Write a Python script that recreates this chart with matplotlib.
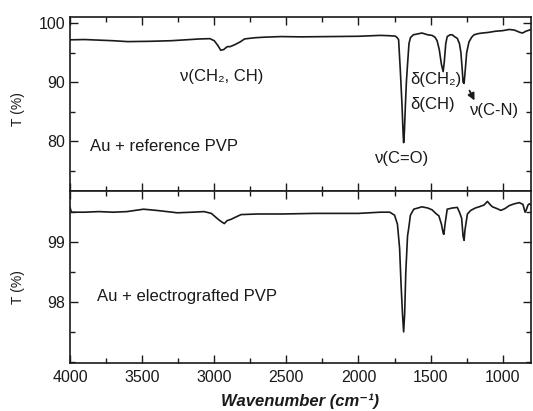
import numpy as np
import matplotlib
matplotlib.use("Agg")
import matplotlib.pyplot as plt
from matplotlib.ticker import MultipleLocator


# =========================================
# Spectra
# =========================================
ref_wn = [4000, 3900, 3800, 3700, 3600, 3450, 3300, 3200, 3100, 3030,
          3000, 2975, 2955, 2935, 2910, 2890, 2860, 2820, 2790, 2720,
          2650, 2535, 2400, 2200, 2000, 1850, 1790, 1760, 1747, 1735,
          1722, 1710, 1699, 1690, 1687, 1682, 1675, 1668, 1660, 1650,
          1640, 1620, 1580, 1560, 1520, 1490, 1470, 1455, 1440, 1425,
          1413, 1405, 1395, 1385, 1365, 1350, 1335, 1315, 1300, 1290,
          1282, 1275, 1268, 1260, 1250, 1234, 1215, 1199, 1170, 1141,
          1100, 1050, 1000, 955, 920, 880, 862, 840, 815, 800]
ref_T = [97.15, 97.2, 97.1, 97.0, 96.85, 96.9, 97.0, 97.15, 97.3, 97.35,
         97.0, 96.2, 95.4, 95.5, 96.0, 96.0, 96.3, 96.8, 97.3, 97.5,
         97.6, 97.7, 97.65, 97.7, 97.75, 97.9, 97.85, 97.8, 97.8, 97.6,
         97.2, 92.0, 86.5, 81.0, 79.8, 81.5, 86.0, 90.0, 93.0, 96.5,
         97.5, 98.0, 98.2, 98.3, 98.0, 97.9, 97.6, 97.0, 95.5, 93.0,
         91.8, 93.5, 96.5, 97.7, 98.0, 98.0, 97.7, 97.4, 96.5, 95.0,
         92.5, 90.0, 89.8, 92.0, 95.0, 96.8, 97.6, 98.0, 98.2, 98.3,
         98.4, 98.6, 98.7, 98.9, 98.8, 98.4, 98.3, 98.6, 98.8, 98.9]

graft_wn = [4000, 3990, 3900, 3800, 3700, 3605, 3490, 3400, 3256, 3150,
            3070, 3020, 2977, 2950, 2930, 2910, 2884, 2850, 2814, 2700,
            2535, 2300, 2000, 1850, 1783, 1750, 1730, 1715, 1705, 1695,
            1687, 1680, 1672, 1660, 1652, 1640, 1617, 1560, 1520, 1490,
            1460, 1443, 1425, 1413, 1408, 1400, 1385, 1350, 1315, 1300,
            1285, 1275, 1268, 1262, 1245, 1222, 1190, 1164, 1130, 1106,
            1085, 1071, 1040, 1013, 985, 955, 920, 885, 860, 845,
            838, 825, 815, 800]
graft_T = [99.58, 99.50, 99.50, 99.51, 99.50, 99.51, 99.55, 99.53, 99.49, 99.50,
           99.51, 99.48, 99.39, 99.34, 99.31, 99.36, 99.38, 99.42, 99.46, 99.47,
           99.47, 99.48, 99.48, 99.50, 99.50, 99.45, 99.30, 98.90, 98.30, 97.80,
           97.50, 97.80, 98.50, 99.10, 99.23, 99.45, 99.55, 99.59, 99.57, 99.54,
           99.47, 99.44, 99.30, 99.15, 99.13, 99.30, 99.55, 99.57, 99.58, 99.50,
           99.40, 99.10, 99.03, 99.20, 99.47, 99.53, 99.57, 99.59, 99.62, 99.68,
           99.62, 99.59, 99.56, 99.53, 99.56, 99.61, 99.64, 99.66, 99.63, 99.50,
           99.53, 99.62, 99.64, 99.62]

xticks = [4000, 3500, 3000, 2500, 2000, 1500, 1000]


# =========================================
# Figure
# =========================================
plt.rcParams["font.family"] = ["Liberation Sans", "DejaVu Sans"]
ink = "#1a1a1a"

fig = plt.figure(figsize=(5.33, 4.11), dpi=100)
gs = fig.add_gridspec(2, 1, height_ratios=[174.5, 172], hspace=0,
                      left=0.1313, right=0.996, top=0.9586, bottom=0.1168)
ax1 = fig.add_subplot(gs[0])
ax2 = fig.add_subplot(gs[1], sharex=ax1)

ax1.plot(ref_wn, ref_T, color=ink, lw=1.2)
ax2.plot(graft_wn, graft_T, color=ink, lw=1.2)

ax1.set_xlim(4000, 805)
ax1.set_ylim(71.6, 101)
ax2.set_ylim(96.98, 99.85)

for ax in (ax1, ax2):
    ax.xaxis.set_major_locator(MultipleLocator(500))
    ax.xaxis.set_minor_locator(MultipleLocator(250))
    ax.tick_params(which="both", direction="in", top=True, right=True,
                   colors=ink, labelsize=11.5, width=1.0)
    ax.tick_params(which="major", length=6)
    ax.tick_params(which="minor", length=3.5)
    for s in ax.spines.values():
        s.set_linewidth(1.2)
        s.set_color(ink)

ax1.yaxis.set_major_locator(MultipleLocator(10))
ax1.yaxis.set_minor_locator(MultipleLocator(5))
ax2.yaxis.set_major_locator(MultipleLocator(1))
ax2.yaxis.set_minor_locator(MultipleLocator(0.5))
ax2.set_yticks([98, 99])
ax1.tick_params(labelbottom=False)
ax2.set_xticks(xticks)
ax2.tick_params(axis="x", pad=5)

ax1.set_ylabel("T (%)", fontsize=10, color=ink)
ax2.set_ylabel("T (%)", fontsize=10, color=ink)
ax1.yaxis.set_label_coords(-0.098, 0.47)
ax2.yaxis.set_label_coords(-0.098, 0.44)

ax2.set_xlabel("Wavenumber (cm⁻¹)", fontsize=12, fontweight="bold",
               fontstyle="italic", color=ink, labelpad=6)


# =========================================
# Annotations
# =========================================
txt = dict(fontsize=12, color=ink)
ax1.text(3860, 79.1, "Au + reference PVP", va="center", ha="left", **txt)
ax1.text(2947, 90.9, "ν(CH₂, CH)", va="center", ha="center", **txt)
ax1.text(1699, 77.2, "ν(C=O)", va="center", ha="center", **txt)
ax1.text(1643, 90.4, "δ(CH₂)", va="center", ha="left", **txt)
ax1.text(1643, 86.2, "δ(CH)", va="center", ha="left", **txt)
ax1.text(1230, 85.3, "ν(C-N)", va="center", ha="left", **txt)
ax1.annotate("", xy=(1187, 86.5), xytext=(1239, 89.0),
             arrowprops=dict(arrowstyle="-|>", color=ink, lw=1.3,
                             mutation_scale=10))

ax2.text(3814, 98.09, "Au + electrografted PVP", va="center", ha="left", **txt)

fig.savefig("out.png", dpi=100)
plt.close(fig)
